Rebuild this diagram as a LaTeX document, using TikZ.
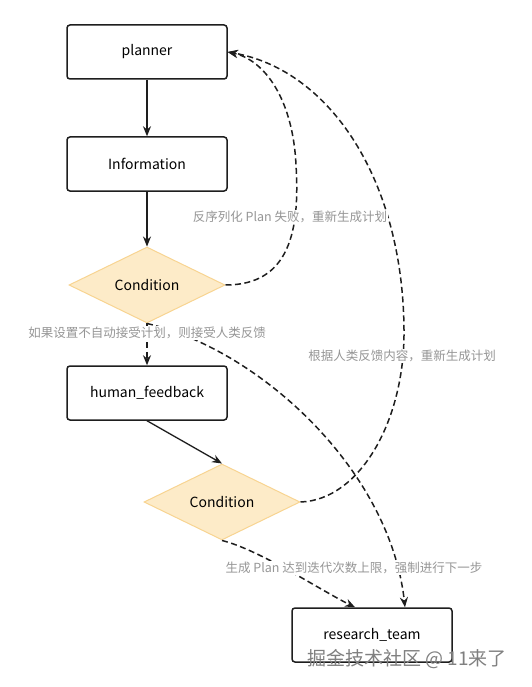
\documentclass[tikz,border=0pt]{standalone}
\usepackage{fontspec}
\setmainfont{Noto Sans CJK SC}
\usetikzlibrary{shapes.geometric,arrows.meta}
\definecolor{inkc}{RGB}{30,30,30}
\definecolor{condfill}{RGB}{253,235,200}
\definecolor{conddraw}{RGB}{248,212,145}
\definecolor{labelc}{RGB}{150,150,150}
\tikzset{
  box/.style={draw=inkc, line width=1.5pt, rounded corners=3pt, minimum width=160pt, minimum height=54pt, inner sep=0pt, font=\fontsize{14}{16}\selectfont, fill=white},
  cond/.style={diamond, draw=conddraw, fill=condfill, line width=1pt, minimum width=156pt, minimum height=52pt, inner sep=0pt, font=\fontsize{14}{16}\selectfont},
  flow/.style={draw=inkc, line width=1.3pt, -{Stealth[length=10pt,width=8pt]}},
  dflow/.style={flow, line width=1.5pt, dash pattern=on 6pt off 3.5pt},
  lbl/.style={text=labelc, font=\fontsize{12.5}{14}\selectfont, fill=white, inner sep=1pt},
}
\begin{document}
\begin{tikzpicture}[x=1pt,y=-1pt]
\useasboundingbox (0,0) rectangle (531,687);
\fill[white] (0,0) rectangle (531,687);
\node[box] (planner) at (147,52) {planner};
\node[box] (info) at (147,164) {Information};
\node[cond] (c1) at (147,285) {Condition};
\node[box] (hf) at (147,393) {human\_feedback};
\node[cond] (c2) at (222,502) {Condition};
\node[box] (rt) at (372,635) {research\_team};

\draw[flow] (planner.south) -- (info.north);
\draw[flow] (info.south) -- (c1.north);
\draw[flow] (hf.south) -- (c2.north);

\draw[dflow] (c1.east) .. controls (290,285) and (300,230) .. (296,165) .. controls (293,100) and (265,60) .. (planner.east);
\draw[dflow] (c1.south) -- (hf.north);
\draw[dflow] (c2.east) .. controls (360,500) and (405,420) .. (404,330) .. controls (403,180) and (330,70) .. (planner.east);
\draw[dflow] (c1.south) .. controls (260,350) and (390,470) .. (rt.north -| 405,0);
\draw[dflow] (c2.south) .. controls (260,550) and (320,590) .. (rt.north -| 355,0);

\node[lbl] (l1) at (290,217) {反序列化 Plan 失败，重新生成计划};
\node[lbl] (l2) at (147,333) {如果设置不自动接受计划，则接受人类反馈};
\node[lbl] (l3) at (402,356) {根据人类反馈内容，重新生成计划};
\node[lbl] (l4) at (354,568) {生成 Plan 达到迭代次数上限，强制进行下一步};

\node[text=black!50, font=\fontsize{19}{21}\selectfont, inner sep=0pt] (wm) at (407,659) {掘金技术社区 @ 11来了};
\end{tikzpicture}
\end{document}
